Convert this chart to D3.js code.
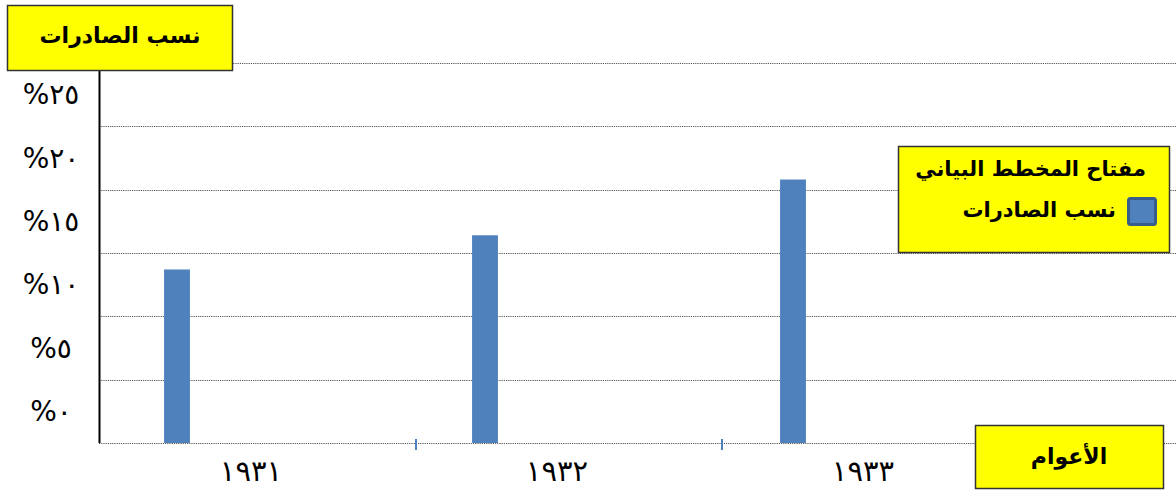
<!DOCTYPE html>
<html>
<head>
<meta charset="utf-8">
<script src="https://cdn.jsdelivr.net/npm/d3@7"></script>
<style>
  body { margin: 0; background: #fff; }
  svg { display: block; font-family: "DejaVu Sans", sans-serif; }
  .grid line { stroke: #555; stroke-width: 1; stroke-dasharray: 1.2,1; }
  .box { fill: #ffff00; stroke: #333; stroke-width: 1.5; }
  .lbl { font-weight: bold; fill: #000; }
</style>
</head>
<body>
<svg id="chart" width="1176" height="495"></svg>
<script>
// data
var years = ['1931', '1932', '1933'];
var yearLabels = ['١٩٣١', '١٩٣٢', '١٩٣٣'];
var exportShare = [13.7, 16.4, 20.8];
var yTicks = [0, 5, 10, 15, 20, 25, 30];
var yTickLabels = ['%٠', '%٥', '%١٠', '%١٥', '%٢٠', '%٢٥'];
var yTitle = 'نسب الصادرات';
var xTitle = 'الأعوام';
var legendTitle = 'مفتاح المخطط البياني';
var seriesName = 'نسب الصادرات';

var barColor = '#4f81bd';

var svg = d3.select('#chart');

var y = d3.scaleLinear().domain([0, 30]).range([443, 63]);

// categories for the axis labels / tick marks
var x = d3.scaleBand().domain(years).range([110, 1028]);
// the bars sit left of the label positions in the original
var xBar = d3.scaleBand().domain(years).range([23, 947]).paddingInner(0.916).paddingOuter(0.458);

// gridlines (dotted)
svg.append('g').attr('class', 'grid')
    .selectAll('line')
    .data(yTicks)
    .enter()
    .append('line')
    .attr('x1', 99)
    .attr('x2', 1176)
    .attr('y1', d => Math.round(y(d)) + 0.5)
    .attr('y2', d => Math.round(y(d)) + 0.5);

// bars
svg.append('g')
    .selectAll('rect')
    .data(exportShare)
    .enter()
    .append('rect')
    .attr('x', (d, i) => xBar(years[i]))
    .attr('width', xBar.bandwidth())
    .attr('y', d => y(d))
    .attr('height', d => y(0) - y(d))
    .attr('fill', barColor);

// y axis line
svg.append('line')
    .attr('x1', 99.5).attr('x2', 99.5)
    .attr('y1', 70).attr('y2', 443)
    .attr('stroke', '#000').attr('stroke-width', 2);

// small tick marks between categories
svg.append('g')
    .selectAll('line')
    .data(years.slice(1))
    .enter()
    .append('line')
    .attr('x1', d => x(d)).attr('x2', d => x(d))
    .attr('y1', 439).attr('y2', 450)
    .attr('stroke', barColor).attr('stroke-width', 2);

// y tick labels (placed half a step above their gridline, as in the original)
var half = (y(0) - y(5)) / 2;
svg.append('g')
    .selectAll('text')
    .data(yTickLabels)
    .enter()
    .append('text')
    .attr('x', 51)
    .attr('y', (d, i) => y(yTicks[i]) - half)
    .attr('text-anchor', 'middle')
    .attr('dominant-baseline', 'central')
    .style('font-size', '28px')
    .text(d => d);

// x category labels
svg.append('g')
    .selectAll('text')
    .data(yearLabels)
    .enter()
    .append('text')
    .attr('x', (d, i) => x(years[i]) + x.bandwidth() / 2 - 12)
    .attr('y', 471)
    .attr('text-anchor', 'middle')
    .attr('dominant-baseline', 'central')
    .style('font-size', '29px')
    .text(d => d);

// y title box
svg.append('rect').attr('class', 'box')
    .attr('x', 7.5).attr('y', 5.5).attr('width', 225).attr('height', 65);
svg.append('text').attr('class', 'lbl')
    .attr('x', 120).attr('y', 35)
    .attr('text-anchor', 'middle').attr('dominant-baseline', 'central')
    .style('font-size', '22px')
    .text(yTitle);

// x title box
svg.append('rect').attr('class', 'box')
    .attr('x', 975.5).attr('y', 425.5).attr('width', 188).attr('height', 63);
svg.append('text').attr('class', 'lbl')
    .attr('x', 1069).attr('y', 456)
    .attr('text-anchor', 'middle').attr('dominant-baseline', 'central')
    .style('font-size', '22px')
    .text(xTitle);

// legend
var legend = svg.append('g');
legend.append('rect').attr('class', 'box')
    .attr('x', 898.5).attr('y', 146.5).attr('width', 271).attr('height', 106);
legend.append('text').attr('class', 'lbl')
    .attr('x', 1146).attr('y', 169)
    .attr('text-anchor', 'end').attr('dominant-baseline', 'central')
    .style('font-size', '21px')
    .text(legendTitle);
legend.append('rect')
    .attr('x', 1128.5).attr('y', 198.5).attr('width', 27).attr('height', 26)
    .attr('rx', 2)
    .attr('fill', barColor).attr('stroke', '#385d8a').attr('stroke-width', 3);
legend.append('text').attr('class', 'lbl')
    .attr('x', 1116).attr('y', 210)
    .attr('text-anchor', 'end').attr('dominant-baseline', 'central')
    .style('font-size', '21px')
    .text(seriesName);
</script>
</body>
</html>
